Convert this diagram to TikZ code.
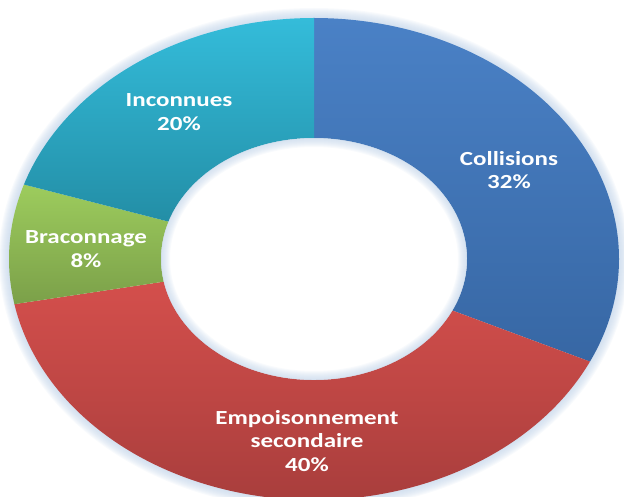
\documentclass[tikz,border=0pt]{standalone}
\usepackage{fontspec}
\setmainfont{Carlito}
\usetikzlibrary{calc}

\definecolor{colltop}{HTML}{4A81C6}
\definecolor{collbot}{HTML}{3767A4}
\definecolor{emptop}{HTML}{D44F4C}
\definecolor{empbot}{HTML}{A23B3A}
\definecolor{bractop}{HTML}{9DCC5D}
\definecolor{bracbot}{HTML}{7BA049}
\definecolor{incotop}{HTML}{34BCDA}
\definecolor{incobot}{HTML}{238EA6}
\definecolor{halo}{HTML}{BFD2E8}

\begin{document}
\begin{tikzpicture}[x=1pt,y=1pt,
  lbl/.style={text=white,font=\bfseries\fontsize{20}{23.5}\selectfont,align=center,xscale=1.25}]

\clip (0,0) rectangle (624,496);
\coordinate (c) at (314,237);

% glow round the ring
\foreach \w in {2,4,...,20}
  \draw[halo,opacity=0.1,line width=\w pt] (c) ellipse[x radius=305,y radius=241];

\foreach \a/\b/\tc/\bc in {90/-25.2/colltop/collbot, -25.2/-169.2/emptop/empbot,
    190.8/162/bractop/bracbot, 162/90/incotop/incobot}
  \shade[top color=\tc,bottom color=\bc] ($(c)+(\a:305 and 241)$)
    arc[start angle=\a,end angle=\b,x radius=305,y radius=241]
    -- ($(c)+(\b:153 and 121)$)
    arc[start angle=\b,end angle=\a,x radius=153,y radius=121] -- cycle;

% glow in the hole
\begin{scope}
\clip (c) ellipse[x radius=153,y radius=121];
\foreach \w in {2,4,...,18}
  \draw[halo,opacity=0.1,line width=\w pt] (c) ellipse[x radius=153,y radius=121];
\end{scope}

\node[lbl] (coll) at (509,326) {Collisions\\32\%};
\node[lbl] (inco) at (179,384) {Inconnues\\20\%};
\node[lbl] (brac) at (86,247) {Braconnage\\8\%};
\node[lbl] (empo) at (307,55) {Empoisonnement\\secondaire\\40\%};

\end{tikzpicture}
\end{document}
